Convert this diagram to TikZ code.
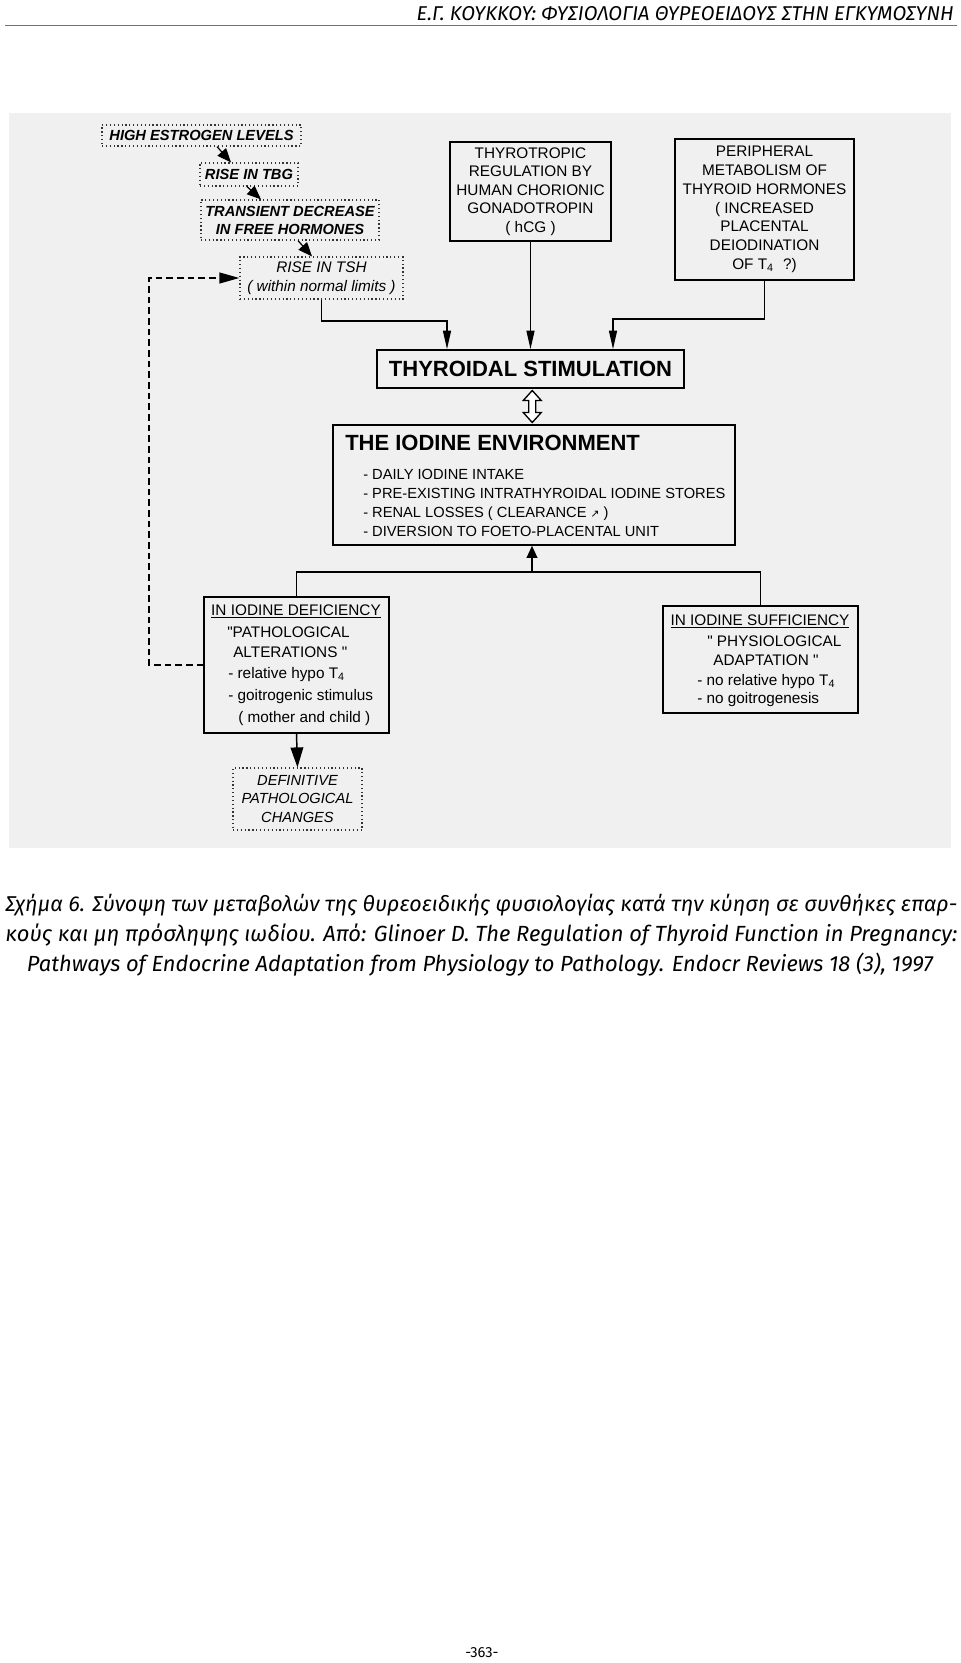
\documentclass[tikz,border=0pt]{standalone}
\usepackage{fontspec}
\usepackage{graphicx}
\setmainfont{Liberation Sans}
\newfontfamily\qfont{Liberation Sans}
\newfontfamily\capfont{Fira Sans}
\newfontfamily\symfont{DejaVu Sans}
\newcommand\sq{{\qfont"}}
\usetikzlibrary{arrows.meta,calc}
\definecolor{panel}{RGB}{239,240,239}
\tikzset{
  sbox/.style={draw=black, line width=1.2pt, inner sep=0pt, align=center, font=\fontsize{11.5}{13.9}\selectfont},
  dbox/.style={draw=black!80, dotted, line width=0.9pt, inner sep=0pt, align=center, font=\fontsize{11}{13.6}\selectfont\itshape},
  lbl/.style={inner sep=0pt, anchor=base west, font=\fontsize{11.5}{13.9}\selectfont},
  lblc/.style={inner sep=0pt, anchor=base, font=\fontsize{11.5}{13.9}\selectfont},
  conn/.style={line width=1.1pt, draw=black},
  arr/.style={conn, -{Triangle[length=14pt,width=6pt]}},
  uparr/.style={conn, -{Triangle[length=9pt,width=8pt]}},
  bigarr/.style={conn, -{Triangle[length=15pt,width=9.5pt]}},
  diagarr/.style={line width=0.9pt, -{Triangle[length=10.5pt,width=8.5pt]}},
  dashln/.style={line width=1.6pt, dash pattern=on 5pt off 3pt, -{Triangle[length=15pt,width=8pt]}},
}
\begin{document}
\begin{tikzpicture}[x=0.75pt,y=-0.75pt]
\useasboundingbox (0,0) rectangle (960,1663);
\fill[white] (0,0) rectangle (960,1663);
% header
\draw[black!55, line width=1.3pt] (5,25.5) -- (957,25.5);
\node[anchor=base east, inner sep=0pt] (hdr) at (954,20) {\capfont\itshape\resizebox{402.75pt}{10.5pt}{Ε.Γ. ΚΟΥΚΚΟΥ: ΦΥΣΙΟΛΟΓΙΑ ΘΥΡΕΟΕΙΔΟΥΣ ΣΤΗΝ ΕΓΚΥΜΟΣΥΝΗ}};
% panel
\fill[panel] (8.5,113) rectangle (951,848);

% dotted chain
\node[dbox, font=\fontsize{11}{13.6}\selectfont\bfseries\itshape, minimum width=149.25pt, minimum height=15.75pt] (hel) at (201.5,135.5) {HIGH ESTROGEN LEVELS};
\node[dbox, font=\fontsize{11}{13.6}\selectfont\bfseries\itshape, minimum width=73.5pt, minimum height=17.25pt] (tbg) at (249,174.5) {RISE IN TBG};
\node[dbox, font=\fontsize{11}{13.5}\selectfont\bfseries\itshape, minimum width=133.5pt, minimum height=30pt] (tra) at (290,220) {TRANSIENT DECREASE\\IN FREE HORMONES};
\node[dbox, font=\fontsize{11.5}{14.2}\selectfont\itshape, minimum width=122.25pt, minimum height=31.5pt] (tsh) at (321.5,278) {RISE IN TSH\\( within normal limits )};

\draw[diagarr] ($(hel.south)+(15.5,0)$) -- ($(tbg.north)+(-18,0)$);
\draw[diagarr] ($(tbg.south)+(-2,0)$) -- ($(tra.north)+(-29,0)$);
\draw[diagarr] ($(tra.south)+(8,0)$) -- ($(tsh.north)+(-9.5,0)$);

% top solid boxes
\node[sbox, minimum width=120.75pt, minimum height=74.25pt] (hcg) at (530.5,191.5) {THYROTROPIC\\REGULATION BY\\HUMAN CHORIONIC\\GONADOTROPIN\\( hCG )};
\node[sbox, minimum width=134.25pt, minimum height=105.75pt, font=\fontsize{11.5}{14.1}\selectfont] (per) at (764.5,209.5) {PERIPHERAL\\METABOLISM OF\\THYROID HORMONES\\( INCREASED\\PLACENTAL\\DEIODINATION\\OF T\textsubscript{4}\hspace{0.6em}?)};

% thyroidal stimulation
\node[sbox, minimum width=230.25pt, minimum height=28.5pt, font=\fontsize{16.5}{18}\selectfont\bfseries] (thy) at (530.5,369) {THYROIDAL STIMULATION};

\coordinate (j1) at (447,321);
\coordinate (j2) at (613,319);
\draw[arr] (tsh.south) |- (j1) -- (j1 |- thy.north);
\draw[arr] (hcg.south) -- (hcg.south |- thy.north);
\draw[arr] (per.south) |- (j2) -- (j2 |- thy.north);

% iodine environment
\node[sbox, minimum width=301.5pt, minimum height=90pt] (iod) at (534,485) {};
\node[lbl, font=\fontsize{16.5}{18}\selectfont\bfseries] (iodt) at (345,450) {THE IODINE ENVIRONMENT};
\node[lbl, font=\fontsize{11}{13}\selectfont] (iod1) at (363,479) {- DAILY IODINE INTAKE};
\node[lbl, font=\fontsize{11}{13}\selectfont] (iod2) at (363,498) {- PRE-EXISTING INTRATHYROIDAL IODINE STORES};
\node[lbl, font=\fontsize{11}{13}\selectfont] (iod3) at (363,517) {- RENAL LOSSES ( CLEARANCE {\symfont\fontsize{8}{9}\selectfont ↗} )};
\node[lbl, font=\fontsize{11}{13}\selectfont] (iod4) at (363,536) {- DIVERSION TO FOETO-PLACENTAL UNIT};

% hollow double arrow
\coordinate (dm) at ($(thy.south)!0.5!(iod.north)$);
\draw[line width=1pt, fill=white] ($(dm)+(0,-16)$) -- ($(dm)+(9,-6)$) -- ($(dm)+(3.5,-6)$) -- ($(dm)+(3.5,6)$) -- ($(dm)+(9,6)$) -- ($(dm)+(0,16)$) -- ($(dm)+(-9,6)$) -- ($(dm)+(-3.5,6)$) -- ($(dm)+(-3.5,-6)$) -- ($(dm)+(-9,-6)$) -- cycle;

% deficiency / sufficiency
\node[sbox, minimum width=138.75pt, minimum height=102pt] (defc) at (296.5,665) {};
\node[sbox, minimum width=146.25pt, minimum height=80.25pt] (suf) at (760.5,659.5) {};
\node[dbox, font=\fontsize{11}{13.9}\selectfont\itshape, minimum width=96.75pt, minimum height=46.5pt] (defn) at (297.5,799) {DEFINITIVE\\PATHOLOGICAL\\CHANGES};

\node[lblc] (dc1) at (296,615.5) {\underline{IN IODINE DEFICIENCY}};
\node[lbl] (dc2) at (227,637.5) {\sq PATHOLOGICAL};
\node[lbl] (dc3) at (233,657.5) {ALTERATIONS \sq};
\node[lbl] (dc4) at (228,678.5) {- relative hypo T\textsubscript{4}};
\node[lbl] (dc5) at (228,700.5) {- goitrogenic stimulus};
\node[lbl] (dc6) at (238,722.5) {( mother and child )};

\node[lblc] (sf1) at (760,625.5) {\underline{IN IODINE SUFFICIENCY}};
\node[lbl] (sf2) at (707,646.5) {\sq{} PHYSIOLOGICAL};
\node[lbl] (sf3) at (713,665.5) {ADAPTATION \sq};
\node[lbl] (sf4) at (697,685.5) {- no relative hypo T\textsubscript{4}};
\node[lbl] (sf5) at (697,703.5) {- no goitrogenesis};

\coordinate (j3) at (532,572);
\draw[conn] (defc.north) |- (j3) -| (suf.north);
\draw[uparr] (j3) -- (j3 |- iod.south);
\draw[bigarr] (defc.south) -- (defn.north);

\coordinate (dl) at (149,0);
\draw[dashln] (defc.west) -- (defc.west -| dl) |- (tsh.west);

% caption
\node[anchor=base west, inner sep=0pt] (cap1) at (5,911) {\capfont\itshape\resizebox{714pt}{!}{Σχήμα 6. Σύνοψη των μεταβολών της θυρεοειδικής φυσιολογίας κατά την κύηση σε συνθήκες επαρ-}};
\node[anchor=base west, inner sep=0pt] (cap2) at (5,941) {\capfont\itshape\resizebox{714pt}{!}{κούς και μη πρόσληψης ιωδίου. Από: Glinoer D. The Regulation of Thyroid Function in Pregnancy:}};
\node[anchor=base, inner sep=0pt] (cap3) at (480,971) {\capfont\itshape\resizebox{679.5pt}{!}{Pathways of Endocrine Adaptation from Physiology to Pathology. Endocr Reviews 18 (3), 1997}};

\node[anchor=base, inner sep=0pt] (pg) at (482,1657) {\capfont\fontsize{11}{13}\selectfont -363-};
\end{tikzpicture}
\end{document}
